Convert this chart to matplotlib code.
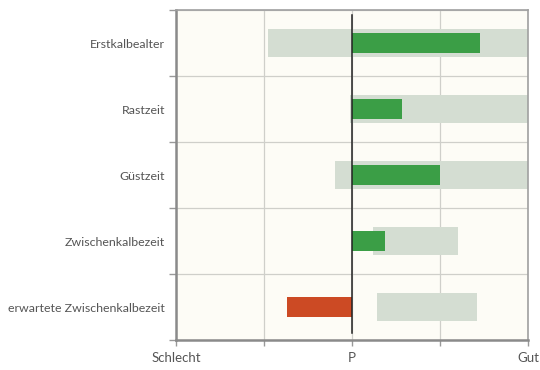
import matplotlib
matplotlib.use("Agg")
import matplotlib.pyplot as plt
import numpy as np

# categories from top to bottom
categories = ["Erstkalbealter", "Rastzeit", "Güstzeit",
              "Zwischenkalbezeit", "erwartete Zwischenkalbezeit"]
# grey range bars (start, end) on the Schlecht..Gut scale (-2..2)
range_start = [-0.95, -0.02, -0.19, 0.24, 0.28]
range_end = [2.0, 2.0, 2.0, 1.21, 1.42]
# actual value bars, measured from P (0)
values = [1.45, 0.57, 1.0, 0.37, -0.74]
x_ticks = [-2, -1, 0, 1, 2]
x_labels = ["Schlecht", "", "P", "", "Gut"]

plt.rcParams['font.family'] = ['Lato', 'DejaVu Sans']
text_col = "#555555"

fig = plt.figure(figsize=(5.4, 3.7), dpi=100)
ax = fig.add_axes([176 / 540, 1 - 340 / 370, 352 / 540, 330 / 370])
ax.set_facecolor("#fdfcf6")

y = np.arange(len(categories))
widths = np.array(range_end) - np.array(range_start)
ax.barh(y, widths, left=range_start, height=0.43, color="#d4ddd2", zorder=2)
colors = ["#3b9e46" if v >= 0 else "#cc4a24" for v in values]
ax.barh(y, values, left=0, height=0.30, color=colors, zorder=3)
ax.axvline(0, ymin=0.02, ymax=0.985, color="#222222", lw=1.1, zorder=4)

ax.set_xlim(-2, 2)
ax.set_ylim(len(categories) - 0.5, -0.5)
ax.set_xticks(x_ticks)
ax.set_xticklabels(x_labels)
ax.set_yticks(np.arange(-0.5, len(categories)))
ax.set_yticklabels([])
ax.set_yticks(y, minor=True)
ax.set_yticklabels(categories, minor=True)
ax.tick_params(axis="y", which="minor", length=0, pad=8, labelsize=8.9, labelcolor=text_col)
ax.tick_params(axis="y", which="major", length=5, color="#999999", width=1)
ax.tick_params(axis="x", length=4, color="#999999", width=1, pad=5, labelsize=9.5, labelcolor=text_col)

ax.grid(True, which="major", color="#cfcfca", lw=0.9, zorder=1)
ax.set_axisbelow(True)
for side in ["top", "right"]:
    ax.spines[side].set_color("#a0a0a0")
    ax.spines[side].set_linewidth(1.2)
for side in ["left", "bottom"]:
    ax.spines[side].set_color("#8a8a8a")
    ax.spines[side].set_linewidth(1.8)

fig.savefig("out.png", dpi=100)
